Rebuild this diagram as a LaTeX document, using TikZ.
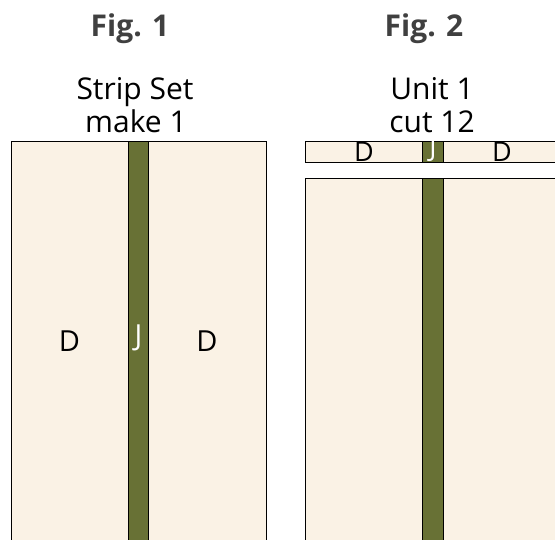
\documentclass[tikz,border=0pt]{standalone}
\usepackage{fontspec}
\setmainfont{Open Sans}
\definecolor{fabricD}{HTML}{FAF2E5}
\definecolor{fabricJ}{HTML}{687135}
\definecolor{titlegray}{HTML}{404040}
\tikzset{
    patch/.style={draw=black, line width=1pt},
    figtitle/.style={font=\fontsize{30}{32}\selectfont\bfseries, text=titlegray, anchor=base, inner sep=0pt},
    caption/.style={font=\fontsize{30}{32}\selectfont, anchor=base, inner sep=0pt},
    letter/.style={font=\fontsize{29}{30}\selectfont, anchor=base, inner sep=0pt},
    smallletter/.style={letter, font=\fontsize{27}{28}\selectfont}
}

\begin{document}
\begin{tikzpicture}[x=1pt, y=-1pt]
    \useasboundingbox (0,0) rectangle (555,540);
    \clip (0,0) rectangle (555,540);
    % Titles
    \node[figtitle] (fig1) at (130,37) {Fig. 1};
    \node[figtitle] (fig2) at (424,37) {Fig. 2};
    % Captions
    \node[caption] (cap1a) at (135,100) {Strip Set};
    \node[caption] (cap1b) at (136,133) {make 1};
    \node[caption] (cap2a) at (432,100) {Unit 1};
    \node[caption] (cap2b) at (432,133) {cut 12};
    % Fig. 1: the strip set
    \fill[fabricD] (11,142) rectangle (266,560);
    \filldraw[patch, fill=fabricJ] (128,142) rectangle (148,560);
    \draw[patch] (11,142) rectangle (266,560);
    \node[letter] (d1) at (69.5,352) {D};
    \node[letter, text=white] (j1) at (138.5,346) {J};
    \node[letter] (d2) at (207,352) {D};
    % Fig. 2: the cut unit
    \fill[fabricD] (305.5,142) rectangle (580,162.5);
    \filldraw[patch, fill=fabricJ] (422,142) rectangle (443.5,162.5);
    \draw[patch] (305.5,142) rectangle (580,162.5);
    \node[smallletter] (d3) at (364,162) {D};
    \node[smallletter, text=white] (j2) at (433,156.5) {J};
    \node[smallletter] (d4) at (502,162) {D};
    % Fig. 2: what is left of the strip set
    \fill[fabricD] (305.5,179) rectangle (580,560);
    \filldraw[patch, fill=fabricJ] (422,179) rectangle (443.5,560);
    \draw[patch] (305.5,179) rectangle (580,560);
\end{tikzpicture}
\end{document}
